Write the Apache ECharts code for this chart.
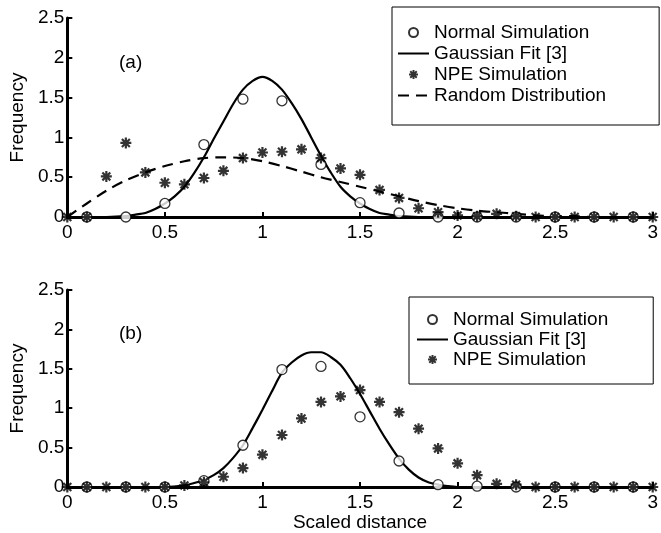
<!DOCTYPE html>
<html>
<head>
<meta charset="utf-8">
<script src="https://cdn.jsdelivr.net/npm/echarts@6/dist/echarts.min.js"></script>
<style>
html,body{margin:0;padding:0;background:#fff;}
#chart{width:661px;height:533px;}
</style>
</head>
<body>
<div id="chart"></div>
<script>
// x positions of the markers
var circleX = [0.1,0.3,0.5,0.7,0.9,1.1,1.3,1.5,1.7,1.9,2.1,2.3,2.5,2.7,2.9];
var starX = [0,0.1,0.2,0.3,0.4,0.5,0.6,0.7,0.8,0.9,1.0,1.1,1.2,1.3,1.4,1.5,1.6,1.7,1.8,1.9,2.0,2.1,2.2,2.3,2.4,2.5,2.6,2.7,2.8,2.9,3.0];

// panel (a)
var normalA = [0,0,0.17,0.91,1.48,1.46,0.66,0.18,0.05,0,0,0,0,0,0];
var npeA = [0,0,0.51,0.93,0.56,0.43,0.41,0.49,0.58,0.74,0.81,0.82,0.85,0.74,0.61,0.53,0.34,0.24,0.11,0.06,0.02,0.01,0.04,0.01,0,0,0,0,0,0,0];
var fitXA = [0,0.1,0.2,0.3,0.35,0.4,0.45,0.5,0.55,0.6,0.65,0.7,0.75,0.8,0.85,0.9,0.95,1.0,1.05,1.1,1.15,1.2,1.25,1.3,1.35,1.4,1.45,1.5,1.55,1.6,1.65,1.7,1.8,2.0,2.5,3.0];
var fitA = [0,0,0,0.01,0.03,0.05,0.1,0.17,0.26,0.38,0.55,0.75,0.98,1.2,1.42,1.6,1.71,1.76,1.71,1.6,1.43,1.23,1.0,0.77,0.56,0.38,0.26,0.17,0.1,0.05,0.03,0.01,0,0,0,0];
var randX = [0,0.1,0.2,0.3,0.4,0.5,0.6,0.7,0.8,0.9,1.0,1.1,1.2,1.3,1.4,1.5,1.6,1.7,1.8,1.9,2.0,2.1,2.2,2.3,2.4,2.5,2.6,2.7,2.8,2.9,3.0];
var randA = [0,0.17,0.33,0.46,0.56,0.64,0.7,0.74,0.75,0.74,0.7,0.64,0.57,0.5,0.44,0.38,0.32,0.26,0.2,0.15,0.11,0.08,0.06,0.04,0.02,0.01,0.01,0,0,0,0];

// panel (b)
var normalB = [0,0,0,0.08,0.53,1.49,1.53,0.89,0.33,0.03,0.01,0,0,0,0];
var npeB = [0,0,0,0,0,0,0.02,0.06,0.13,0.24,0.41,0.66,0.87,1.08,1.15,1.23,1.08,0.95,0.74,0.49,0.3,0.15,0.04,0.03,0,0,0,0,0,0,0];
var fitXB = [0,0.5,0.6,0.65,0.7,0.75,0.8,0.85,0.9,0.95,1.0,1.05,1.1,1.15,1.2,1.25,1.3,1.35,1.4,1.45,1.5,1.55,1.6,1.65,1.7,1.75,1.8,1.85,1.9,1.95,2.0,2.5,3.0];
var fitB = [0,0,0.02,0.05,0.09,0.15,0.24,0.37,0.53,0.75,0.98,1.22,1.45,1.58,1.67,1.71,1.71,1.65,1.55,1.38,1.18,0.96,0.74,0.54,0.36,0.22,0.12,0.06,0.03,0.01,0,0,0];

var yTicks = [0,0.5,1,1.5,2,2.5];
var xTicks = [0,0.5,1,1.5,2,2.5,3];

function zip(xs, ys) {
    return xs.map(function (x, i) { return [x, ys[i]]; });
}

var FONT = 'Liberation Sans';
var star = 'path://M0,-5L0,5M-5,0L5,0M-3.6,-3.6L3.6,3.6M-3.6,3.6L3.6,-3.6';

function xAxis(grid, name) {
    return {
        type: 'value', gridIndex: grid, min: 0, max: 3, interval: 0.5,
        name: name, nameLocation: 'middle', nameGap: 26,
        nameTextStyle: {color: '#000', fontSize: 19, fontFamily: FONT},
        axisLine: {lineStyle: {color: '#000', width: 3}},
        axisTick: {inside: true, length: 5, lineStyle: {color: '#000', width: 2}},
        axisLabel: {color: '#000', fontSize: 19, fontFamily: FONT, margin: 6,
            formatter: function (v) { return xTicks.indexOf(v) >= 0 ? String(v) : ''; }},
        splitLine: {show: false}
    };
}
function yAxis(grid) {
    return {
        type: 'value', gridIndex: grid, min: 0, max: 2.5, interval: 0.5,
        name: 'Frequency', nameLocation: 'middle', nameGap: 37,
        nameTextStyle: {color: '#000', fontSize: 19, fontFamily: FONT},
        axisLine: {show: true, lineStyle: {color: '#000', width: 3}},
        axisTick: {show: true, inside: true, length: 5, lineStyle: {color: '#000', width: 2}},
        axisLabel: {color: '#000', fontSize: 19, fontFamily: FONT, margin: 3,
            formatter: function (v) { return yTicks.indexOf(v) >= 0 ? String(v) : ''; }},
        splitLine: {show: false}
    };
}
function circles(grid, data) {
    return {name: 'Normal Simulation', type: 'scatter', xAxisIndex: grid, yAxisIndex: grid,
        symbol: 'circle', symbolSize: 10, data: data, z: 4,
        itemStyle: {color: '#fff', borderColor: '#000', borderWidth: 1.3}};
}
function stars(grid, data) {
    return {name: 'NPE Simulation', type: 'scatter', xAxisIndex: grid, yAxisIndex: grid,
        symbol: star, symbolSize: 11, data: data, z: 4,
        itemStyle: {color: 'none', borderColor: '#000', borderWidth: 2.2}};
}
function fit(grid, data) {
    return {name: 'Gaussian Fit [3]', type: 'line', xAxisIndex: grid, yAxisIndex: grid,
        data: data, smooth: 0.3, symbol: 'none', showSymbol: false, z: 3,
        lineStyle: {color: '#000', width: 2.2}, itemStyle: {color: '#000'}};
}
function legendBox(top, left, pad, gap, names) {
    return {
        top: top, left: left, orient: 'vertical',
        data: names.map(function (n) {
            var lineItem = n === 'Gaussian Fit [3]' || n === 'Random Distribution';
            return lineItem ? {name: n, itemStyle: {opacity: 0}} : {name: n};
        }),
        backgroundColor: '#fff', borderColor: '#000', borderWidth: 1, borderRadius: 0,
        padding: pad, itemGap: gap, itemWidth: 31, itemHeight: 9,
        textStyle: {color: '#000', fontSize: 19, fontFamily: FONT},
        selectedMode: false
    };
}

var chart = echarts.init(document.getElementById('chart'));
chart.setOption({
    animation: false,
    backgroundColor: '#fff',
    grid: [
        {left: 61, top: 18, width: 597, height: 199},
        {left: 60, top: 290, width: 595, height: 199}
    ],
    xAxis: [xAxis(0, ''), xAxis(1, 'Scaled distance')],
    yAxis: [yAxis(0), yAxis(1)],
    legend: [
        legendBox(7, 392, [16, 53, 20, 5], 2, ['Normal Simulation', 'Gaussian Fit [3]', 'NPE Simulation', 'Random Distribution']),
        legendBox(297, 409, [13, 45, 15, 7], 1, ['Normal Simulation', 'Gaussian Fit [3]', 'NPE Simulation'])
    ],
    graphic: [
        {type: 'text', left: 119, top: 53, style: {text: '(a)', fontSize: 19, fontFamily: FONT, fill: '#000'}},
        {type: 'text', left: 119, top: 324, style: {text: '(b)', fontSize: 19, fontFamily: FONT, fill: '#000'}}
    ],
    series: [
        circles(0, zip(circleX, normalA)),
        fit(0, zip(fitXA, fitA)),
        stars(0, zip(starX, npeA)),
        {name: 'Random Distribution', type: 'line', xAxisIndex: 0, yAxisIndex: 0,
            data: zip(randX, randA), smooth: 0.3, symbol: 'none', showSymbol: false, z: 3,
            lineStyle: {color: '#000', width: 2.2, type: [11, 7]}, itemStyle: {color: '#000'}},
        circles(1, zip(circleX, normalB)),
        fit(1, zip(fitXB, fitB)),
        stars(1, zip(starX, npeB))
    ]
});
</script>
</body>
</html>
